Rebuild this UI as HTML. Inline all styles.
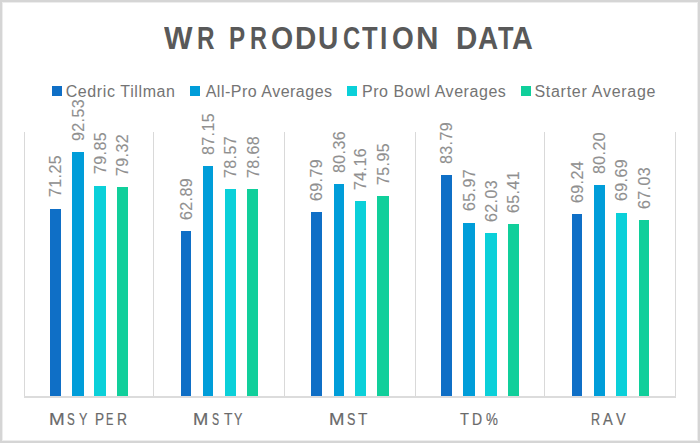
<!DOCTYPE html>
<html><head><meta charset="utf-8"><style>
html,body{margin:0;padding:0;}
body{width:700px;height:443px;position:relative;overflow:hidden;background:#fff;font-family:"Liberation Sans",sans-serif;}
.frame{position:absolute;left:0;top:0;width:700px;height:443px;box-sizing:border-box;border:2px solid #d5d5d5;box-shadow:inset 0 0 0 1px #ededed;}
.title{position:absolute;left:0;top:21.1px;width:700px;height:40px;font-weight:bold;font-size:30.5px;color:#595959;}
.tl,.cl{position:absolute;top:0;transform-origin:0 0;white-space:pre;}
.cats{position:absolute;left:0;top:409.6px;width:700px;height:20px;font-size:16.3px;color:#6a6a6a;-webkit-text-stroke:0.2px #6a6a6a;}
.leg{position:absolute;top:83px;font-size:16px;color:#747474;white-space:pre;}
.sq{position:absolute;width:10px;height:10px;top:86px;}
.gl{position:absolute;width:1px;background:#d9d9d9;}
.ax{position:absolute;height:2px;background:#dcdcdc;}
.bar{position:absolute;}
.lbl{position:absolute;font-size:16px;line-height:16px;color:#8f8f8f;white-space:nowrap;transform-origin:0 0;transform:rotate(-90deg) translateY(-50%);letter-spacing:0.4px;-webkit-text-stroke:0.15px #999;}
</style></head><body>
<div class="frame"></div>
<div class="title"><span class="tl" style="left:164.40px;transform:scaleX(0.990)">W</span><span class="tl" style="left:197.11px;transform:scaleX(0.795)">R</span><span class="tl" style="left:229.21px;transform:scaleX(0.794)">P</span><span class="tl" style="left:250.06px;transform:scaleX(0.770)">R</span><span class="tl" style="left:270.76px;transform:scaleX(0.936)">O</span><span class="tl" style="left:294.76px;transform:scaleX(0.968)">D</span><span class="tl" style="left:318.46px;transform:scaleX(0.921)">U</span><span class="tl" style="left:343.02px;transform:scaleX(0.780)">C</span><span class="tl" style="left:362.00px;transform:scaleX(0.837)">T</span><span class="tl" style="left:380.38px;transform:scaleX(0.860)">I</span><span class="tl" style="left:392.48px;transform:scaleX(0.918)">O</span><span class="tl" style="left:416.26px;transform:scaleX(1.022)">N</span><span class="tl" style="left:455.96px;transform:scaleX(0.968)">D</span><span class="tl" style="left:477.88px;transform:scaleX(0.915)">A</span><span class="tl" style="left:497.60px;transform:scaleX(0.832)">T</span><span class="tl" style="left:512.45px;transform:scaleX(0.945)">A</span></div>
<div class="sq" style="left:51.6px;background:#0F6FC6"></div><div class="leg" style="left:65.7px;letter-spacing:0.61px">Cedric Tillman</div>
<div class="sq" style="left:190.4px;background:#009DD9"></div><div class="leg" style="left:205.7px;letter-spacing:0.5px">All-Pro Averages</div>
<div class="sq" style="left:346.5px;background:#0BD0D9"></div><div class="leg" style="left:362px;letter-spacing:0.56px">Pro Bowl Averages</div>
<div class="sq" style="left:521px;background:#10CF9B"></div><div class="leg" style="left:534.4px;letter-spacing:0.73px">Starter Average</div>
<div class="gl" style="left:24px;top:132px;height:264px"></div>
<div class="gl" style="left:153px;top:132px;height:264px"></div>
<div class="gl" style="left:284px;top:132px;height:264px"></div>
<div class="gl" style="left:415px;top:132px;height:264px"></div>
<div class="gl" style="left:544px;top:132px;height:264px"></div>
<div class="gl" style="left:675px;top:132px;height:264px"></div>
<div class="bar" style="left:49.80px;top:208.53px;width:11.60px;height:189.47px;background:#0F6FC6"></div>
<div class="lbl" style="left:56.30px;top:197.33px">71.25</div>
<div class="bar" style="left:72.00px;top:151.89px;width:11.70px;height:246.11px;background:#009DD9"></div>
<div class="lbl" style="left:78.55px;top:140.69px">92.53</div>
<div class="bar" style="left:94.30px;top:185.64px;width:11.70px;height:212.36px;background:#0BD0D9"></div>
<div class="lbl" style="left:100.85px;top:174.44px">79.85</div>
<div class="bar" style="left:116.60px;top:187.05px;width:11.70px;height:210.95px;background:#10CF9B"></div>
<div class="lbl" style="left:123.15px;top:175.85px">79.32</div>
<div class="bar" style="left:180.50px;top:230.79px;width:10.60px;height:167.21px;background:#0F6FC6"></div>
<div class="lbl" style="left:186.50px;top:219.59px">62.89</div>
<div class="bar" style="left:202.80px;top:166.21px;width:10.60px;height:231.79px;background:#009DD9"></div>
<div class="lbl" style="left:208.80px;top:155.01px">87.15</div>
<div class="bar" style="left:225.10px;top:189.05px;width:10.60px;height:208.95px;background:#0BD0D9"></div>
<div class="lbl" style="left:231.10px;top:177.85px">78.57</div>
<div class="bar" style="left:247.40px;top:188.75px;width:10.90px;height:209.25px;background:#10CF9B"></div>
<div class="lbl" style="left:253.55px;top:177.55px">78.68</div>
<div class="bar" style="left:311.20px;top:212.42px;width:10.80px;height:185.58px;background:#0F6FC6"></div>
<div class="lbl" style="left:317.30px;top:201.22px">69.79</div>
<div class="bar" style="left:333.50px;top:184.28px;width:10.80px;height:213.72px;background:#009DD9"></div>
<div class="lbl" style="left:339.60px;top:173.08px">80.36</div>
<div class="bar" style="left:354.90px;top:200.79px;width:11.20px;height:197.21px;background:#0BD0D9"></div>
<div class="lbl" style="left:361.20px;top:189.59px">74.16</div>
<div class="bar" style="left:377.20px;top:196.02px;width:11.70px;height:201.98px;background:#10CF9B"></div>
<div class="lbl" style="left:383.75px;top:184.82px">75.95</div>
<div class="bar" style="left:440.90px;top:175.15px;width:11.40px;height:222.85px;background:#0F6FC6"></div>
<div class="lbl" style="left:447.30px;top:163.95px">83.79</div>
<div class="bar" style="left:463.10px;top:222.59px;width:11.70px;height:175.41px;background:#009DD9"></div>
<div class="lbl" style="left:469.65px;top:211.39px">65.97</div>
<div class="bar" style="left:485.40px;top:233.08px;width:11.20px;height:164.92px;background:#0BD0D9"></div>
<div class="lbl" style="left:491.70px;top:221.88px">62.03</div>
<div class="bar" style="left:507.70px;top:224.08px;width:11.50px;height:173.92px;background:#10CF9B"></div>
<div class="lbl" style="left:514.15px;top:212.88px">65.41</div>
<div class="bar" style="left:571.60px;top:213.88px;width:10.80px;height:184.12px;background:#0F6FC6"></div>
<div class="lbl" style="left:577.70px;top:202.68px">69.24</div>
<div class="bar" style="left:594.00px;top:184.71px;width:10.60px;height:213.29px;background:#009DD9"></div>
<div class="lbl" style="left:600.00px;top:173.51px">80.20</div>
<div class="bar" style="left:616.20px;top:212.69px;width:10.80px;height:185.31px;background:#0BD0D9"></div>
<div class="lbl" style="left:622.30px;top:201.49px">69.69</div>
<div class="bar" style="left:638.60px;top:219.77px;width:10.80px;height:178.23px;background:#10CF9B"></div>
<div class="lbl" style="left:644.70px;top:208.57px">67.03</div>
<div class="ax" style="left:24px;top:396px;width:652px"></div>
<div class="cats"><span class="cl" style="left:48.84px;transform:scaleX(1.158)">M</span><span class="cl" style="left:67.19px;transform:scaleX(0.710)">S</span><span class="cl" style="left:78.60px;transform:scaleX(0.773)">Y</span><span class="cl" style="left:94.57px;transform:scaleX(0.833)">P</span><span class="cl" style="left:106.42px;transform:scaleX(0.680)">E</span><span class="cl" style="left:117.05px;transform:scaleX(0.850)">R</span><span class="cl" style="left:193.38px;transform:scaleX(1.125)">M</span><span class="cl" style="left:211.85px;transform:scaleX(0.650)">S</span><span class="cl" style="left:223.50px;transform:scaleX(0.850)">T</span><span class="cl" style="left:234.00px;transform:scaleX(0.773)">Y</span><span class="cl" style="left:328.76px;transform:scaleX(1.142)">M</span><span class="cl" style="left:346.63px;transform:scaleX(0.770)">S</span><span class="cl" style="left:357.70px;transform:scaleX(0.940)">T</span><span class="cl" style="left:460.30px;transform:scaleX(0.900)">T</span><span class="cl" style="left:471.84px;transform:scaleX(0.860)">D</span><span class="cl" style="left:485.60px;transform:scaleX(0.821)">&#37;</span><span class="cl" style="left:590.83px;transform:scaleX(0.770)">R</span><span class="cl" style="left:602.70px;transform:scaleX(0.900)">A</span><span class="cl" style="left:616.00px;transform:scaleX(0.891)">V</span></div>
</body></html>
